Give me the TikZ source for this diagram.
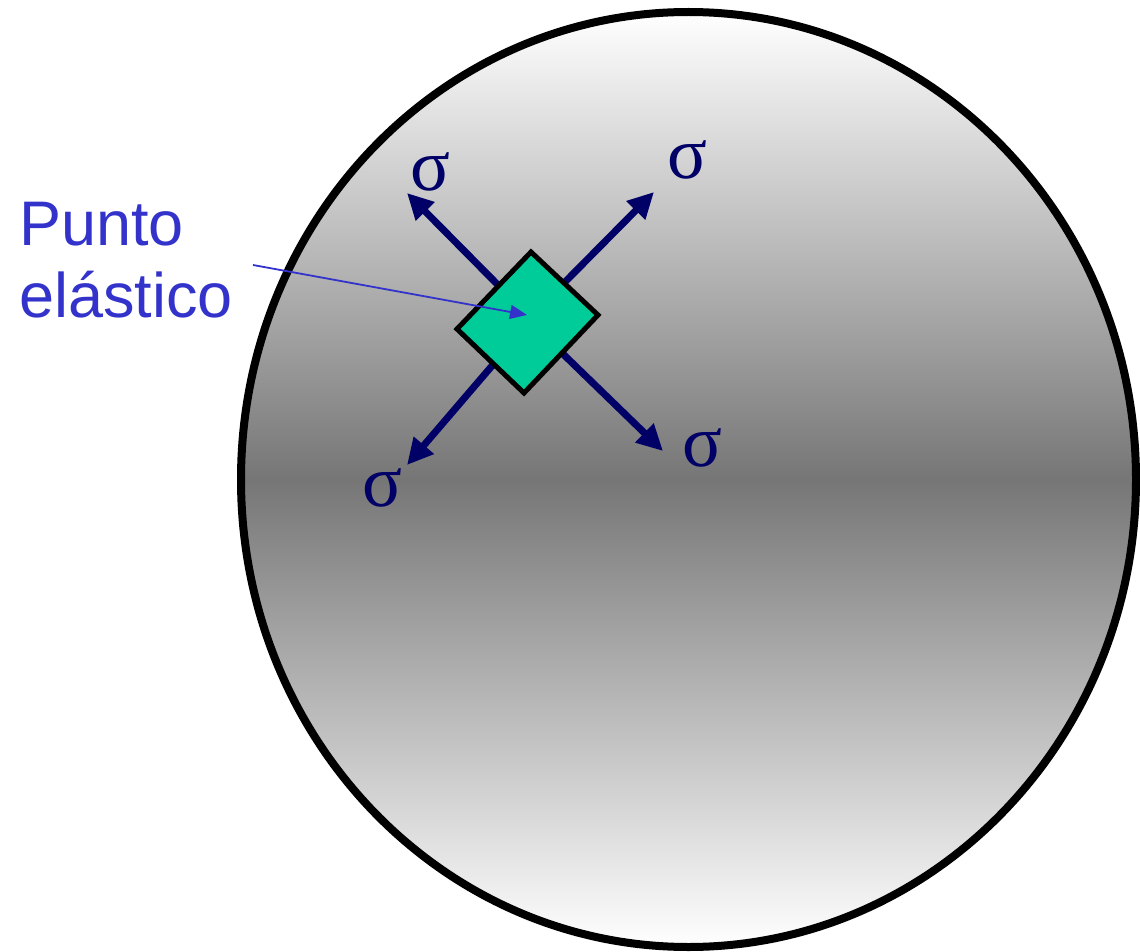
\documentclass[tikz,border=0pt]{standalone}
\usepackage{fontspec}
\setmainfont{Liberation Sans}
\newfontfamily\sigfont{Liberation Serif}
\usetikzlibrary{arrows.meta}
\definecolor{navy}{RGB}{0,0,102}
\definecolor{labelblue}{RGB}{51,51,204}
\definecolor{mint}{RGB}{0,204,153}
\definecolor{midgray}{RGB}{118,118,118}
\begin{document}
\begin{tikzpicture}[x=1pt,y=-1pt,
  sigarrow/.style={draw=navy,line width=7pt,-{Triangle[length=26pt,width=25pt]}},
  siglabel/.style={text=navy,font=\sigfont\fontsize{74}{74}\selectfont,inner sep=0pt},
  lbltext/.style={text=labelblue,font=\fontsize{63}{72}\selectfont,inner sep=0pt,anchor=base west},
  pointer/.style={draw=labelblue,line width=1.8pt,-{Triangle[length=17pt,width=14pt]}}]
\useasboundingbox (0,0) rectangle (1140,952);
% body
\shade[top color=white,bottom color=white,middle color=midgray] (688.5,479.5) ellipse [x radius=447.5, y radius=467.5];
\draw[line width=8pt] (688.5,479.5) ellipse [x radius=447.5, y radius=467.5];
% element corners
\coordinate (t) at (531,252);
\coordinate (r) at (598,315);
\coordinate (b) at (524,393);
\coordinate (l) at (457,329);
% arrow anchors
\coordinate (ul0) at (498,285); \coordinate (ul1) at (407,193);
\coordinate (ur0) at (565,282); \coordinate (ur1) at (654,192);
\coordinate (ll0) at (497,360); \coordinate (ll1) at (407,465);
\coordinate (lr0) at (562,353); \coordinate (lr1) at (663,451);
\draw[sigarrow] (ul0) -- (ul1);
\draw[sigarrow] (ur0) -- (ur1);
\draw[sigarrow] (ll0) -- (ll1);
\draw[sigarrow] (lr0) -- (lr1);
\draw[line width=5pt,fill=mint,line join=miter] (t) -- (r) -- (b) -- (l) -- cycle;
% sigma labels
\node[siglabel] (s1) at (430,172) {σ};
\node[siglabel] (s2) at (687,160) {σ};
\node[siglabel] (s3) at (382,488) {σ};
\node[siglabel] (s4) at (702,448) {σ};
% label
\node[lbltext] (p1) at (19,245) {Punto};
\node[lbltext] (p2) at (19,317) {elástico};
\coordinate (ps) at (253,265);
\coordinate (pe) at (527,315);
\draw[pointer] (ps) -- (pe);
\end{tikzpicture}
\end{document}
